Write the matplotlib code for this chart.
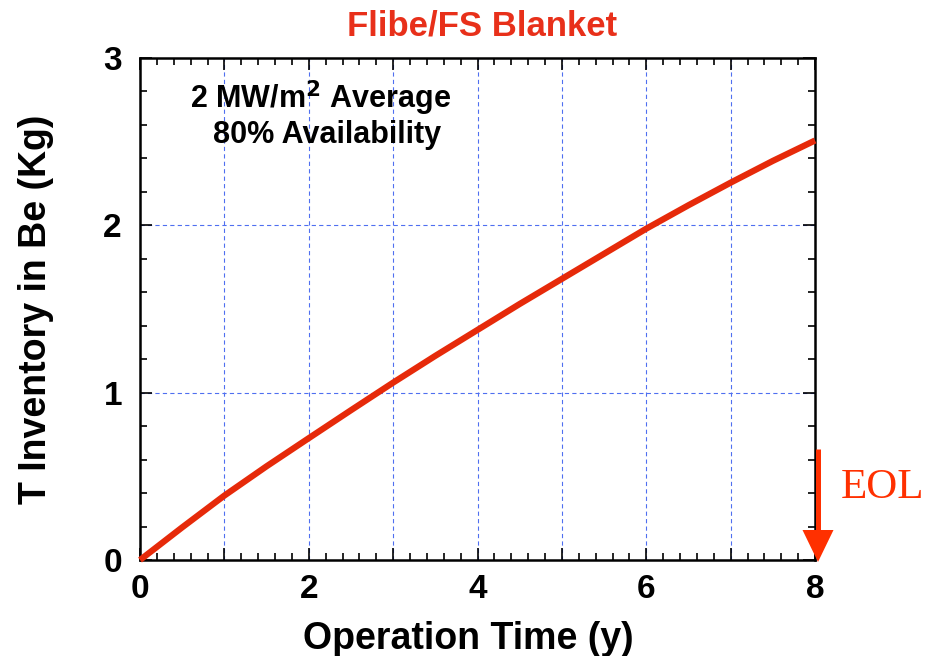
import matplotlib
matplotlib.use("Agg")
import matplotlib.pyplot as plt
from matplotlib.ticker import MultipleLocator, FuncFormatter
from matplotlib.patches import Polygon
from matplotlib.lines import Line2D

years = [0, 0.5, 1, 1.5, 2, 2.5, 3, 3.5, 4, 4.5, 5, 5.5, 6, 6.5, 7, 7.5, 8]
inventory = [0.0, 0.195, 0.385, 0.56, 0.728, 0.895, 1.06, 1.22, 1.375,
             1.53, 1.68, 1.83, 1.98, 2.12, 2.255, 2.385, 2.507]
x_tick_labels = {0: '0', 2: '2', 4: '4', 6: '6', 8: '8'}

plt.rcParams['font.family'] = ['Liberation Sans', 'DejaVu Sans']
plt.rcParams['font.weight'] = 'bold'

W, H = 941, 656
fig = plt.figure(figsize=(W / 100, H / 100), dpi=100)
ax = fig.add_axes([140 / W, 1 - 560 / H, (815 - 140) / W, (560 - 58) / H])

ax.plot(years, inventory, color='#e62a0a', lw=4.5, solid_capstyle='butt',
        solid_joinstyle='round', zorder=3, clip_on=False)

ax.set_xlim(0, 8)
ax.set_ylim(0, 3)
ax.xaxis.set_major_locator(MultipleLocator(1))
ax.xaxis.set_minor_locator(MultipleLocator(0.2))
ax.xaxis.set_major_formatter(FuncFormatter(lambda v, p: x_tick_labels.get(int(round(v)), '')))
ax.yaxis.set_major_locator(MultipleLocator(1))
ax.yaxis.set_minor_locator(MultipleLocator(0.2))

grid_col = '#4f6ff0'
for x in range(1, 8):
    ax.axvline(x, color=grid_col, lw=0.8, ls=(0, (3.8, 2.9)), zorder=1)
for y in [1, 2]:
    ax.axhline(y, color=grid_col, lw=0.8, ls=(0, (3.8, 2.9)), zorder=1)

ax.tick_params(which='major', direction='in', length=8.6, width=1.2, top=True, right=True,
               labelsize=24)
ax.tick_params(axis='x', which='major', pad=10)
ax.tick_params(axis='y', which='major', pad=13)
ax.tick_params(which='minor', direction='in', length=5, width=1.2, top=True, right=True)
for lab in ax.get_xticklabels() + ax.get_yticklabels():
    lab.set_fontweight('bold')
for s in ax.spines.values():
    s.set_linewidth(1.8)

ax.set_xlabel('Operation Time (y)', fontsize=27, fontweight='bold')
ax.xaxis.set_label_coords((468 - 140) / 675, -0.122)
ax.set_ylabel('T Inventory in Be (Kg)', fontsize=27, fontweight='bold')
ax.yaxis.set_label_coords((54 - 140) / 675, 0.5)

fig.text(482 / W, 1 - 26 / H, 'Flibe/FS Blanket', color='#e8301a', fontsize=25,
         fontweight='bold', ha='center', va='center')

ax.text((321 - 140) / 675, (560 - 98) / 502, '2 MW/m$^\\mathbf{2}$ Average', transform=ax.transAxes,
        fontsize=22, fontweight='bold', ha='center', va='center')
ax.text((327 - 140) / 675, (560 - 135) / 502, '80% Availability', transform=ax.transAxes,
        fontsize=22, fontweight='bold', ha='center', va='center')

# EOL arrow (figure pixel coordinates -> fraction)
arrow_col = '#ff3000'
fx = lambda px: px / W
fy = lambda py: 1 - py / H
fig.add_artist(Line2D([fx(818), fx(818)], [fy(449), fy(532)], color=arrow_col, lw=3.6,
                      solid_capstyle='butt'))
fig.add_artist(Polygon([(fx(802.5), fy(530)), (fx(833.5), fy(530)), (fx(818), fy(562))],
                       closed=True, color=arrow_col, lw=0))
fig.text(883 / W, 1 - 488 / H, 'EOL', color=arrow_col, fontsize=31,
         family='Liberation Serif', fontweight='normal', ha='center', va='center')

fig.savefig('out.png', dpi=100)
